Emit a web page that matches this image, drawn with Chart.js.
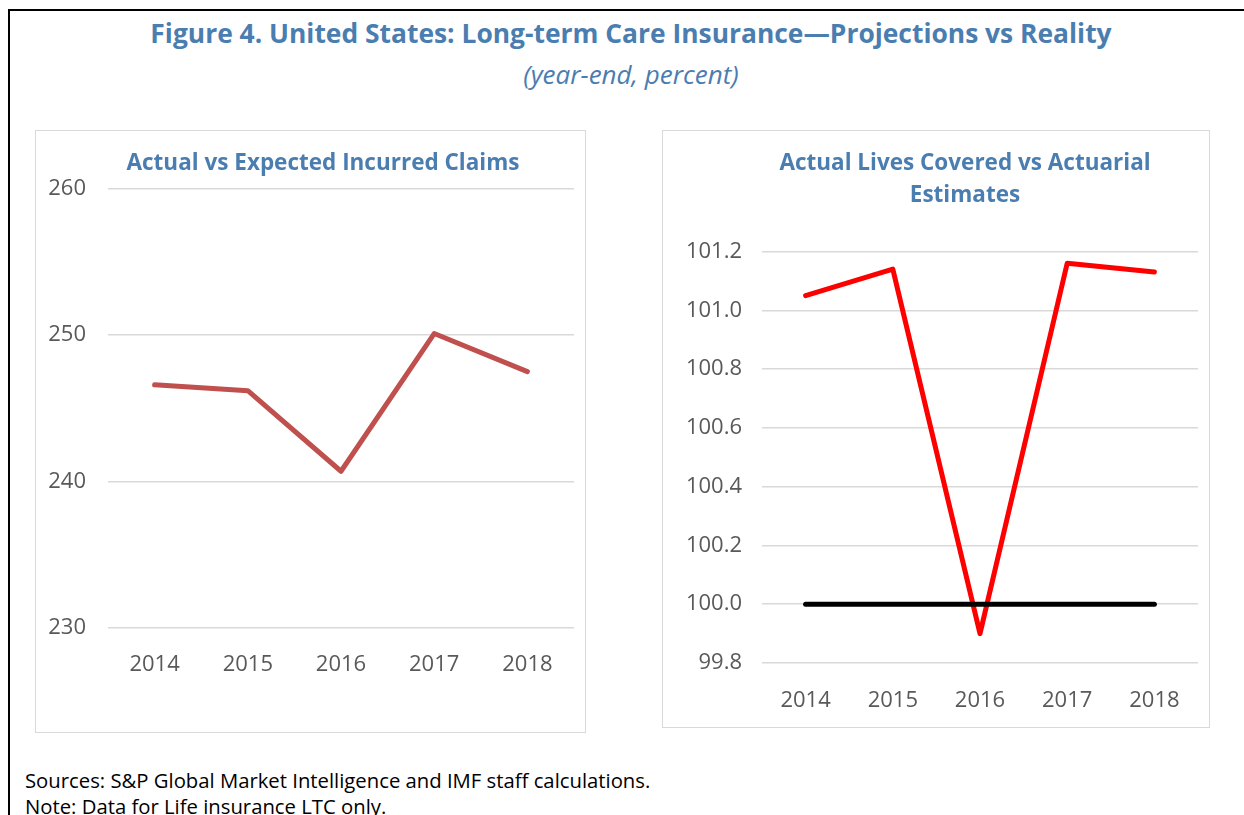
<!DOCTYPE html>
<html>
<head>
<meta charset="utf-8">
<script src="https://cdn.jsdelivr.net/npm/chart.js@4.4.1/dist/chart.umd.min.js"></script>
<style>
  body { margin: 0; background: #fff; font-family: "Open Sans", sans-serif; }
  #page { position: relative; width: 1244px; height: 815px; overflow: hidden; }
  #frame { position: absolute; left: 8px; top: 9px; width: 1300px; height: 900px;
           border-top: 2px solid #000; border-left: 2px solid #000; }
  .title { position: absolute; text-align: center; color: #4a7db0; white-space: nowrap; }
  #t1 { left: 0; width: 1262px; top: 15px; font-size: 26.4px; line-height: 36px; font-weight: 700; }
  #t2 { left: 0; width: 1262px; top: 56px; font-size: 26px; line-height: 37px; font-style: italic; }
  .panelTitle { font-size: 22.5px; font-weight: 700; }
  #ptL { left: 123px; width: 400px; top: 147px; line-height: 30px; }
  #ptR { left: 765px; width: 400px; top: 146px; line-height: 32px; }
  .box { position: absolute; border: 1.5px solid #d9d9d9; box-sizing: border-box; }
  #boxL { left: 35px; top: 130px; width: 551px; height: 603px; }
  #boxR { left: 662px; top: 130px; width: 548px; height: 598px; }
  .note { position: absolute; left: 25px; font-size: 20.3px; line-height: 28px; color: #000; white-space: nowrap; }
</style>
</head>
<body>
<div id="page">
  <div id="frame"></div>
  <div class="title" id="t1">Figure 4. United States: Long-term Care Insurance—Projections vs Reality</div>
  <div class="title" id="t2">(year-end, percent)</div>
  <div class="box" id="boxL"><canvas id="claimsChart" width="548" height="600"></canvas></div>
  <div class="box" id="boxR"><canvas id="livesChart" width="545" height="595"></canvas></div>
  <div class="title panelTitle" id="ptL">Actual vs Expected Incurred Claims</div>
  <div class="title panelTitle" id="ptR">Actual Lives Covered vs Actuarial<br>Estimates</div>
  <div class="note" style="top:766px">Sources: S&amp;P Global Market Intelligence and IMF staff calculations.</div>
  <div class="note" style="top:792px">Note: Data for Life insurance LTC only.</div>
</div>
<script>
var years = ['2014', '2015', '2016', '2017', '2018'];
var claimsRatio = [246.6, 246.2, 240.7, 250.1, 247.5];
var livesActual = [101.05, 101.14, 99.90, 101.16, 101.13];
var livesEstimate = [100, 100, 100, 100, 100];

var tickFont = { family: 'Open Sans', size: 22 };
var tickColor = '#595959';
var gridColor = '#d9d9d9';

function fixWidth(w) { return function(scale) { scale.width = w; }; }
function fixHeight(h) { return function(scale) { scale.height = h; }; }

new Chart(document.getElementById('claimsChart'), {
  type: 'line',
  data: {
    labels: years,
    datasets: [{
      data: claimsRatio,
      borderColor: '#c0504d',
      borderWidth: 5,
      pointRadius: 0,
      borderCapStyle: 'round',
      borderJoinStyle: 'round',
      tension: 0
    }]
  },
  options: {
    responsive: false,
    animation: false,
    layout: { padding: { top: 57.5, left: 0, right: 10, bottom: 55 } },
    plugins: {
      legend: { display: false },
      tooltip: { enabled: false },
      title: { display: false }
    },
    scales: {
      x: {
        offset: true,
        grid: { display: false },
        border: { display: false },
        ticks: { color: tickColor, font: tickFont, padding: 16, maxRotation: 0 },
        afterFit: fixHeight(48)
      },
      y: {
        min: 230, max: 260,
        ticks: { stepSize: 10, color: tickColor, font: tickFont, padding: 22 },
        grid: { color: gridColor, lineWidth: 1.5, drawTicks: false },
        border: { display: false },
        afterFit: fixWidth(72)
      }
    }
  }
});

new Chart(document.getElementById('livesChart'), {
  type: 'line',
  data: {
    labels: years,
    datasets: [{
      data: livesActual,
      borderColor: '#ff0000',
      borderWidth: 5,
      pointRadius: 0,
      borderCapStyle: 'round',
      borderJoinStyle: 'round',
      tension: 0,
      order: 1
    }, {
      data: livesEstimate,
      borderColor: '#000000',
      borderWidth: 5,
      pointRadius: 0,
      borderCapStyle: 'round',
      tension: 0,
      order: 0
    }]
  },
  options: {
    responsive: false,
    animation: false,
    layout: { padding: { top: 120.5, left: 0, right: 10, bottom: 15 } },
    plugins: {
      legend: { display: false },
      tooltip: { enabled: false },
      title: { display: false }
    },
    scales: {
      x: {
        offset: true,
        grid: { display: false },
        border: { display: false },
        ticks: { color: tickColor, font: tickFont, padding: 17, maxRotation: 0 },
        afterFit: fixHeight(48)
      },
      y: {
        min: 99.8, max: 101.2,
        ticks: {
          stepSize: 0.2, color: tickColor, font: tickFont, padding: 20,
          callback: function(v) { return v.toFixed(1); }
        },
        grid: { color: gridColor, lineWidth: 1.5, drawTicks: false },
        border: { display: false },
        afterFit: fixWidth(99)
      }
    }
  }
});
</script>
</body>
</html>
